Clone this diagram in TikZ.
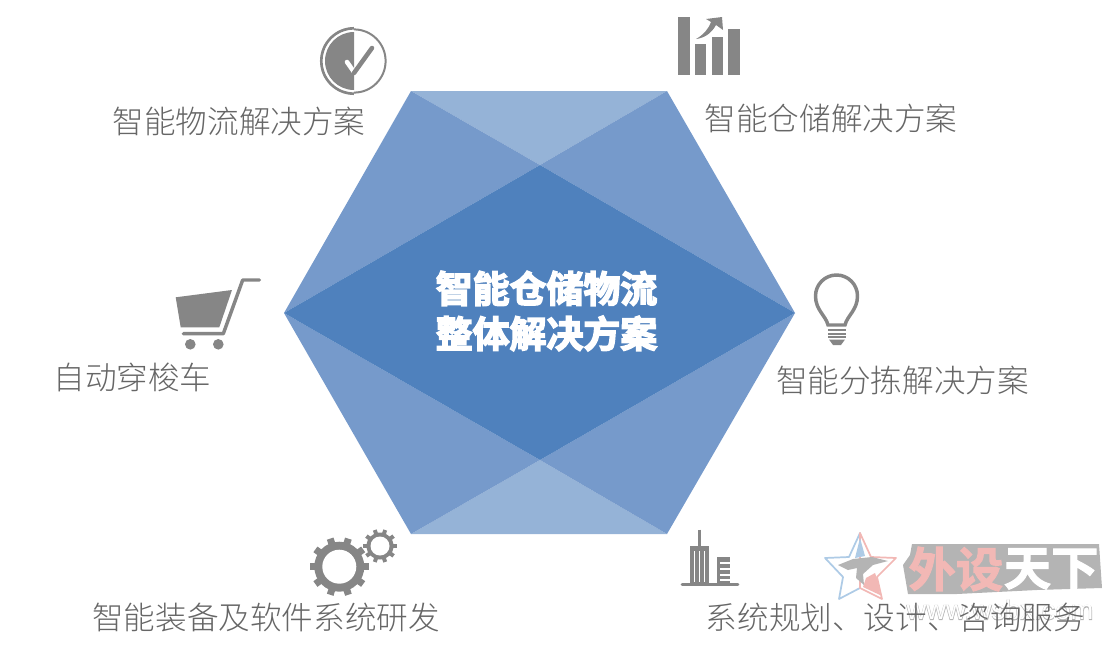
\documentclass[tikz,border=0pt]{standalone}
\usepackage{fontspec}
\newfontfamily\cjk{Noto Sans CJK SC}[UprightFont=* Light]
\newfontfamily\cjkbold{Noto Sans CJK SC Bold}[FakeBold=4]
\newfontfamily\wmbold{Noto Sans CJK SC Bold}[FakeBold=2]
\newfontfamily\wmurl{Liberation Sans}
\newfontfamily\wmurlback{Liberation Sans}[FakeBold=3]
\definecolor{hexlight}{HTML}{95B3D7}
\definecolor{hexmid}{HTML}{769ACB}
\definecolor{hexcore}{HTML}{4F81BD}
\definecolor{icongrey}{HTML}{868686}
\definecolor{labelgrey}{HTML}{666666}
\definecolor{wmgrey}{HTML}{B4B4B4}
\definecolor{wmpink}{HTML}{F2B8B5}
\definecolor{wmblue}{HTML}{AECBE6}
\tikzset{
    % Hexagon pieces
    hexpiece/.style={
        draw=none,
    },
    % Outer captions
    caption/.style={
        text=labelgrey,
        font=\cjk\fontsize{23.7}{28}\selectfont,
        inner sep=0pt,
    },
    % Icons
    iconfill/.style={
        fill=icongrey,
        draw=none,
    },
    iconline/.style={
        draw=icongrey,
        line cap=round,
    },
    % Watermark words
    markword/.style={
        inner sep=0pt,
        font=\wmbold\fontsize{35.5}{38}\selectfont,
    },
}
% x, y, hole radius, root radius, tip radius, teeth step, tooth width
\newcommand{\geartool}[7]{
    \foreach \ang in {0,#6,...,359} {
        \draw[draw=icongrey,line width=#7] (#1,#2) ++(\ang:#3) -- ++(\ang:#5-#3);
    }
    \fill[icongrey] (#1,#2) circle[radius=#4];
    \fill[white] (#1,#2) circle[radius=#3];
}
\begin{document}
\begin{tikzpicture}[x=0.75pt,y=-0.75pt]
    \useasboundingbox (0,0) rectangle (1115,650);
%HEXAGON_BEGIN%
    \coordinate (ntl) at (411,91);
    \coordinate (ntr) at (667,91);
    \coordinate (nr) at (795,313);
    \coordinate (nbr) at (667,534);
    \coordinate (nbl) at (411,534);
    \coordinate (nl) at (284,313);
    \coordinate (ct) at (540,165);
    \coordinate (cb) at (540,460);
    \fill[hexpiece,hexlight] (ntl) -- (ntr) -- (ct) -- cycle;
    \fill[hexpiece,hexlight] (nbl) -- (nbr) -- (cb) -- cycle;
    \fill[hexpiece,hexmid] (ntl) -- (ct) -- (nl) -- cycle;
    \fill[hexpiece,hexmid] (ntr) -- (nr) -- (ct) -- cycle;
    \fill[hexpiece,hexmid] (nl) -- (cb) -- (nbl) -- cycle;
    \fill[hexpiece,hexmid] (nr) -- (nbr) -- (cb) -- cycle;
    \fill[hexpiece,hexcore] (nl) -- (ct) -- (nr) -- (cb) -- cycle;
    \node[text=white,align=center,inner sep=0pt,
        font=\cjkbold\fontsize{27.7}{33.8}\selectfont] (core) at (546.5,311) {智能仓储物流\\整体解决方案};
%HEXAGON_END%

%ICONS_BEGIN%
    % Check mark
    \draw[icongrey,line width=1.5pt] (354,29.4) arc[start angle=270,end angle=450,radius=31.6];
    \draw[icongrey,line width=2pt] (354,28.3) arc[start angle=270,end angle=90,radius=32.7];
    \fill[icongrey] (354,32) arc[start angle=270,end angle=90,radius=29] -- cycle;
    \draw[white,line width=3.4pt,line cap=round] (347,62) -- (354,72);
    \draw[iconline,line width=3.4pt] (354,73) -- (372,48);
    % Bars
    \fill[iconfill] (678,17) rectangle (690,75);
    \fill[iconfill] (695,44) rectangle (706,75);
    \fill[iconfill] (712,37) rectangle (723,75);
    \fill[iconfill] (728,29) rectangle (740,75);
    \fill[iconfill] (696,39) .. controls (704,38) and (711,34) .. (716,25)
        -- (723,30) -- (722,17) -- (706,19) -- (711,22)
        .. controls (708,30) and (703,35) .. (696,39) -- cycle;
    % Cart
    \fill[iconfill] (175.7,297.3) -- (232,290) -- (219.3,327.3) -- (180.7,327.3) -- cycle;
    \draw[iconline,line width=2.6pt,line join=round] (183.3,333.7) -- (223.3,333.7) -- (242.7,280) -- (259.3,280);
    \fill[iconfill] (190.3,344.3) circle[radius=5.3];
    \fill[iconfill] (218.3,344.3) circle[radius=5.3];
    % Bulb
    \draw[iconline,line width=2.6pt,fill=white] (828,325)
        .. controls (826,316) and (815.5,310) .. (815.5,296)
        arc[start angle=180,end angle=360,radius=21]
        .. controls (857.5,310) and (847,316) .. (845,325) -- cycle;
    \foreach \barY in {330,333.5,337} {
        \draw[icongrey,line width=1.5pt] (828,\barY) -- (846,\barY);
    }
    \fill[iconfill] (829,339.5) -- (845,339.5) -- (841,345) -- (833,345) -- cycle;
    % Gears
    \geartool{339.3}{566.7}{17}{25}{29.5}{36}{5.2pt}
    \geartool{380}{546}{9.5}{13.5}{16.8}{36}{3pt}
    % Buildings
    \fill[iconfill] (690,546) rectangle (709.3,584);
    \draw[icongrey,line width=1.9pt] (699.5,529.5) -- (699.5,546);
    \foreach \gapX in {694.5,699.5,704.5} {
        \draw[white,line width=1pt] (\gapX,551) -- (\gapX,582);
    }
    \fill[iconfill] (716.7,557.3) rectangle (730,584);
    \foreach \gapY in {563,569,575,580} {
        \draw[white,line width=1pt] (720,\gapY) -- (730,\gapY);
    }
    \draw[iconline,line width=2.2pt] (682,584.7) -- (738,584.7);
%ICONS_END%

%WATERMARK_BEGIN%
    \draw[wmblue,line width=1.3pt,fill=white,line join=round] (860,533) -- (849,557) -- (825,558) -- (843,577) -- (839,599) -- (860,588) -- cycle;
    \draw[wmpink,line width=1.3pt,fill=white,line join=round] (860,533) -- (871,557) -- (896,558) -- (877,577) -- (882,599) -- (860,588) -- cycle;
    \fill[wmblue] (860,538) -- (865,556) -- (855,558) -- cycle;
    \fill[wmpink] (875,573) -- (879,585) -- (880,595) -- (863,587) -- (866,578) -- cycle;
    \fill[wmgrey] (838,565) -- (853,559) -- (872,557) -- (888,561) -- (873,565) -- (863,574) -- (864,585) -- (856,578) -- (857,568) -- (848,570) -- cycle;
    \fill[wmgrey] (912,544) -- (1099,544) -- (1102,588) -- (1037,590) -- (957,594) -- (908,594) -- (903,565) -- (910,555) -- cycle;
    \coordinate (markmid) at (1003.5,569);
    \node[markword,text=wmpink,anchor=east] (markred) at (markmid) {外设};
    \node[markword,text=white,anchor=west] (markwhite) at (markmid) {天下};
    \node[inner sep=0pt,text=wmgrey,font=\wmurlback\fontsize{20.5}{24}\selectfont] (markurlback) at (1000,610) {www.wsbx.com};
    \node[inner sep=0pt,text=white,font=\wmurl\fontsize{20.5}{24}\selectfont] (markurl) at (markurlback) {www.wsbx.com};
%WATERMARK_END%

%LABELS_BEGIN%
    \node[caption] (logistics) at (239,121) {智能物流解决方案};
    \node[caption] (storage) at (831,118) {智能仓储解决方案};
    \node[caption] (shuttle) at (132.5,377) {自动穿梭车};
    \node[caption] (sorting) at (902.5,380) {智能分拣解决方案};
    \node[caption] (equipment) at (266,618) {智能装备及软件系统研发};
    \node[caption] (planning) at (895.5,618) {系统规划、设计、咨询服务};
%LABELS_END%
\end{tikzpicture}
\end{document}
